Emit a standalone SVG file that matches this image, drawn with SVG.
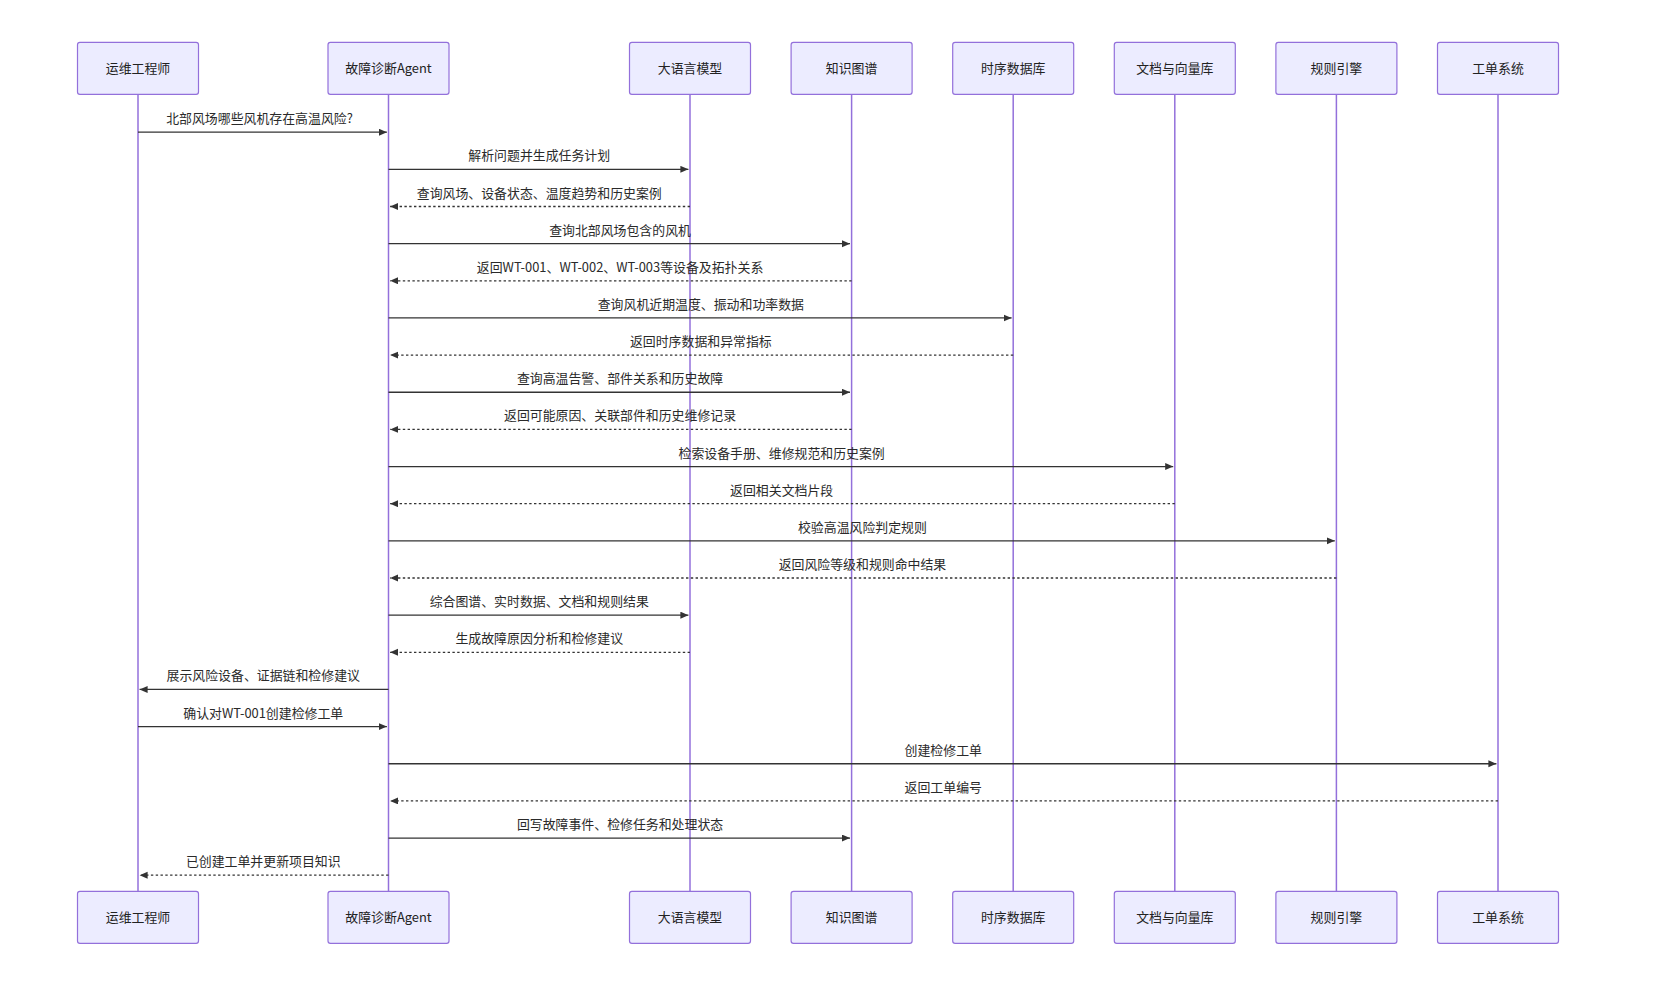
<svg xmlns="http://www.w3.org/2000/svg" width="1666" height="988" viewBox="0 0 1666 988">
<style>
.actor rect{fill:#ECECFF;stroke:#9370DB;stroke-width:1.2}
.actor text{font-family:"Noto Sans CJK SC","Liberation Sans",sans-serif;font-size:12.9px;fill:#222;text-anchor:middle}
.lifeline{stroke:#9370DB;stroke-width:1.5}
.msg{stroke:#333;stroke-width:1.3;fill:none;marker-end:url(#arrow)}
.dot{stroke-dasharray:2.4,2.4}
.lbl{font-family:"Noto Sans CJK SC","Liberation Sans",sans-serif;font-size:12.9px;fill:#2a2a2a;text-anchor:middle}
</style>
<defs>
<marker id="arrow" markerUnits="userSpaceOnUse" markerWidth="9" markerHeight="8" refX="8" refY="3.5" orient="auto">
<path d="M0,0 L8,3.5 L0,7 z" fill="#333"/>
</marker>
</defs>
<rect width="1666" height="988" fill="#fff"/>
<g id="lifelines">
<line class="lifeline" x1="138" y1="94.3" x2="138" y2="891.3"/>
<line class="lifeline" x1="388.5" y1="94.3" x2="388.5" y2="891.3"/>
<line class="lifeline" x1="690" y1="94.3" x2="690" y2="891.3"/>
<line class="lifeline" x1="851.6" y1="94.3" x2="851.6" y2="891.3"/>
<line class="lifeline" x1="1013.2" y1="94.3" x2="1013.2" y2="891.3"/>
<line class="lifeline" x1="1174.8" y1="94.3" x2="1174.8" y2="891.3"/>
<line class="lifeline" x1="1336.4" y1="94.3" x2="1336.4" y2="891.3"/>
<line class="lifeline" x1="1498" y1="94.3" x2="1498" y2="891.3"/>
</g>
<g id="actor-engineer" class="actor">
<rect x="77.5" y="42.3" width="121" height="52" rx="2.4"/><text x="138" y="73">运维工程师</text>
<rect x="77.5" y="891.3" width="121" height="52" rx="2.4"/><text x="138" y="922">运维工程师</text>
</g>
<g id="actor-agent" class="actor">
<rect x="328" y="42.3" width="121" height="52" rx="2.4"/><text x="388.5" y="73">故障诊断Agent</text>
<rect x="328" y="891.3" width="121" height="52" rx="2.4"/><text x="388.5" y="922">故障诊断Agent</text>
</g>
<g id="actor-llm" class="actor">
<rect x="629.5" y="42.3" width="121" height="52" rx="2.4"/><text x="690" y="73">大语言模型</text>
<rect x="629.5" y="891.3" width="121" height="52" rx="2.4"/><text x="690" y="922">大语言模型</text>
</g>
<g id="actor-kg" class="actor">
<rect x="791.1" y="42.3" width="121" height="52" rx="2.4"/><text x="851.6" y="73">知识图谱</text>
<rect x="791.1" y="891.3" width="121" height="52" rx="2.4"/><text x="851.6" y="922">知识图谱</text>
</g>
<g id="actor-tsdb" class="actor">
<rect x="952.7" y="42.3" width="121" height="52" rx="2.4"/><text x="1013.2" y="73">时序数据库</text>
<rect x="952.7" y="891.3" width="121" height="52" rx="2.4"/><text x="1013.2" y="922">时序数据库</text>
</g>
<g id="actor-docs" class="actor">
<rect x="1114.3" y="42.3" width="121" height="52" rx="2.4"/><text x="1174.8" y="73">文档与向量库</text>
<rect x="1114.3" y="891.3" width="121" height="52" rx="2.4"/><text x="1174.8" y="922">文档与向量库</text>
</g>
<g id="actor-rules" class="actor">
<rect x="1275.9" y="42.3" width="121" height="52" rx="2.4"/><text x="1336.4" y="73">规则引擎</text>
<rect x="1275.9" y="891.3" width="121" height="52" rx="2.4"/><text x="1336.4" y="922">规则引擎</text>
</g>
<g id="actor-ticket" class="actor">
<rect x="1437.5" y="42.3" width="121" height="52" rx="2.4"/><text x="1498" y="73">工单系统</text>
<rect x="1437.5" y="891.3" width="121" height="52" rx="2.4"/><text x="1498" y="922">工单系统</text>
</g>
<g id="messages">
<text class="lbl" x="259.5" y="123.2">北部风场哪些风机存在高温风险?</text>
<line class="msg" x1="138" y1="132.2" x2="386.9" y2="132.2"/>
<text class="lbl" x="539.25" y="160.35">解析问题并生成任务计划</text>
<line class="msg" x1="388.5" y1="169.35" x2="688.4" y2="169.35"/>
<text class="lbl" x="539.25" y="197.5">查询风场、设备状态、温度趋势和历史案例</text>
<line class="msg dot" x1="690" y1="206.5" x2="390.1" y2="206.5"/>
<text class="lbl" x="620.05" y="234.65">查询北部风场包含的风机</text>
<line class="msg" x1="388.5" y1="243.65" x2="850" y2="243.65"/>
<text class="lbl" x="620.05" y="271.8">返回WT-001、WT-002、WT-003等设备及拓扑关系</text>
<line class="msg dot" x1="851.6" y1="280.8" x2="390.1" y2="280.8"/>
<text class="lbl" x="700.85" y="308.95">查询风机近期温度、振动和功率数据</text>
<line class="msg" x1="388.5" y1="317.95" x2="1011.6" y2="317.95"/>
<text class="lbl" x="700.85" y="346.1">返回时序数据和异常指标</text>
<line class="msg dot" x1="1013.2" y1="355.1" x2="390.1" y2="355.1"/>
<text class="lbl" x="620.05" y="383.25">查询高温告警、部件关系和历史故障</text>
<line class="msg" x1="388.5" y1="392.25" x2="850" y2="392.25"/>
<text class="lbl" x="620.05" y="420.4">返回可能原因、关联部件和历史维修记录</text>
<line class="msg dot" x1="851.6" y1="429.4" x2="390.1" y2="429.4"/>
<text class="lbl" x="781.65" y="457.55">检索设备手册、维修规范和历史案例</text>
<line class="msg" x1="388.5" y1="466.55" x2="1173.2" y2="466.55"/>
<text class="lbl" x="781.65" y="494.7">返回相关文档片段</text>
<line class="msg dot" x1="1174.8" y1="503.7" x2="390.1" y2="503.7"/>
<text class="lbl" x="862.45" y="531.85">校验高温风险判定规则</text>
<line class="msg" x1="388.5" y1="540.85" x2="1334.8" y2="540.85"/>
<text class="lbl" x="862.45" y="569">返回风险等级和规则命中结果</text>
<line class="msg dot" x1="1336.4" y1="578" x2="390.1" y2="578"/>
<text class="lbl" x="539.25" y="606.15">综合图谱、实时数据、文档和规则结果</text>
<line class="msg" x1="388.5" y1="615.15" x2="688.4" y2="615.15"/>
<text class="lbl" x="539.25" y="643.3">生成故障原因分析和检修建议</text>
<line class="msg dot" x1="690" y1="652.3" x2="390.1" y2="652.3"/>
<text class="lbl" x="263.25" y="680.45">展示风险设备、证据链和检修建议</text>
<line class="msg" x1="388.5" y1="689.45" x2="139.6" y2="689.45"/>
<text class="lbl" x="263.25" y="717.6">确认对WT-001创建检修工单</text>
<line class="msg" x1="138" y1="726.6" x2="386.9" y2="726.6"/>
<text class="lbl" x="943.25" y="754.75">创建检修工单</text>
<line class="msg" x1="388.5" y1="763.75" x2="1496.4" y2="763.75"/>
<text class="lbl" x="943.25" y="791.9">返回工单编号</text>
<line class="msg dot" x1="1498" y1="800.9" x2="390.1" y2="800.9"/>
<text class="lbl" x="620.05" y="829.05">回写故障事件、检修任务和处理状态</text>
<line class="msg" x1="388.5" y1="838.05" x2="850" y2="838.05"/>
<text class="lbl" x="263.25" y="866.2">已创建工单并更新项目知识</text>
<line class="msg dot" x1="388.5" y1="875.2" x2="139.6" y2="875.2"/>
</g>
</svg>
